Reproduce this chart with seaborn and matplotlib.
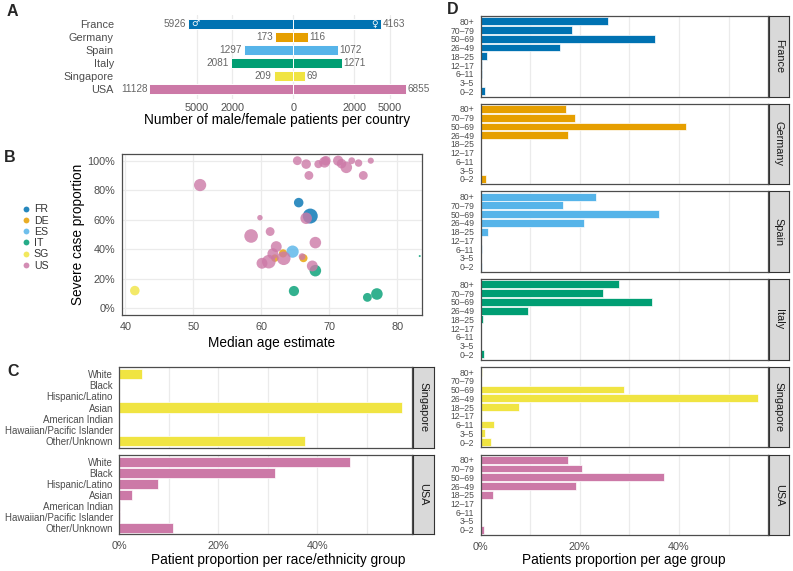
import numpy as np
import pandas as pd
import matplotlib
matplotlib.use("Agg")
import matplotlib.pyplot as plt
import seaborn as sns
from matplotlib.lines import Line2D

# ---------------- data ----------------
countries = ["France", "Germany", "Spain", "Italy", "Singapore", "USA"]
country_codes = ["FR", "DE", "ES", "IT", "SG", "US"]
country_colors = ["#0072B2", "#E69F00", "#56B4E9", "#009E73", "#F0E442", "#CC79A7"]

# Panel A
male_patients = [5926, 173, 1297, 2081, 209, 11128]
female_patients = [4163, 116, 1072, 1271, 69, 6855]
sex_ticks = [-5000, -2000, 0, 2000, 5000]
sex_tick_labels = ["5000", "2000", "0", "2000", "5000"]

# Panel B (one entry per study)
study_country = (["FR"] * 2 + ["DE"] * 3 + ["ES"] + ["IT"] * 5 + ["SG"] + ["US"] * 26)
study_median_age = [65.5, 67.2,
                    62.0, 63.2, 66.2,
                    64.6,
                    64.8, 67.95, 75.6, 77.0, 83.3,
                    41.4,
                    51.0, 65.3, 66.6, 67.0, 68.4, 69.3, 69.5, 71.3, 71.8, 72.5,
                    73.3, 74.3, 75.0, 76.1, 59.8, 61.3, 58.5, 62.2, 61.7, 61.1,
                    60.1, 63.3, 66.0, 67.95, 66.6, 67.5]
study_severe_prop = [0.716, 0.625,
                     0.34, 0.372, 0.34,
                     0.384,
                     0.117, 0.255, 0.074, 0.097, 0.354,
                     0.12,
                     0.835, 1.00, 0.977, 0.90, 0.977, 0.99, 1.00, 1.00, 0.98, 0.955,
                     1.00, 0.984, 0.90, 1.00, 0.614, 0.52, 0.49, 0.418, 0.37, 0.316,
                     0.305, 0.339, 0.35, 0.445, 0.61, 0.287]
study_size = [196, 484,
              121, 144, 144,
              324,
              225, 289, 169, 289, 9,
              196,
              324, 169, 196, 169, 144, 256, 196, 225, 196, 289,
              100, 121, 169, 81, 64, 169, 400, 256, 256, 400,
              256, 400, 100, 289, 289, 256]
age_ticks = [40, 50, 60, 70, 80]
severe_ticks = [0, 0.2, 0.4, 0.6, 0.8, 1.0]

# Panel C
race_groups = ["White", "Black", "Hispanic/Latino", "Asian", "American Indian",
               "Hawaiian/Pacific Islander", "Other/Unknown"]
race_singapore = [0.0465, 0.0, 0.0, 0.572, 0.0, 0.0, 0.376]
race_usa = [0.467, 0.315, 0.0775, 0.0256, 0.002, 0.001, 0.1085]

# Panel D
age_groups = ["80+", "70\u201379", "50\u201369", "26\u201349", "18\u201325",
              "12\u201317", "6\u201311", "3\u20135", "0\u20132"]
age_france = [0.257, 0.185, 0.351, 0.161, 0.013, 0.004, 0.003, 0.001, 0.010]
age_germany = [0.172, 0.191, 0.415, 0.177, 0.0, 0.0, 0.0, 0.0, 0.012]
age_spain = [0.232, 0.167, 0.359, 0.208, 0.016, 0.0, 0.003, 0.0, 0.003]
age_italy = [0.280, 0.247, 0.345, 0.095, 0.005, 0.002, 0.002, 0.0, 0.007]
age_singapore = [0.003, 0.0, 0.290, 0.560, 0.078, 0.003, 0.028, 0.010, 0.021]
age_usa = [0.177, 0.204, 0.370, 0.193, 0.026, 0.001, 0.001, 0.001, 0.007]
prop_ticks = [0, 0.2, 0.4]
prop_tick_labels = ["0%", "20%", "40%"]

# ---------------- style ----------------
sns.set_style("white")
plt.rcParams["font.family"] = ["Liberation Sans", "DejaVu Sans"]
TXT = "#4D4D4D"
GRID = "#EBEBEB"
BORDER = "#4D4D4D"

W, H = 793, 571
fig = plt.figure(figsize=(W / 100, H / 100), dpi=100)


def ax_px(x0, y0, x1, y1):
    return fig.add_axes([x0 / W, 1 - y1 / H, (x1 - x0) / W, (y1 - y0) / H])


def fig_text(x, y, s, **kw):
    fig.text(x / W, 1 - y / H, s, **kw)


def panel_border(ax):
    for s in ax.spines.values():
        s.set_visible(True)
        s.set_color(BORDER)
        s.set_linewidth(0.9)


# ---------------- Panel A ----------------
axA = ax_px(118, 15, 435, 99)
dfA = pd.DataFrame({"country": countries,
                    "male_neg": [-v for v in male_patients],
                    "female": female_patients})
sns.barplot(data=dfA, x="male_neg", y="country", hue="country", order=countries,
            hue_order=countries, palette=country_colors, saturation=1, width=0.82,
            edgecolor="white", linewidth=0.7, legend=False, orient="h", ax=axA)
sns.barplot(data=dfA, x="female", y="country", hue="country", order=countries,
            hue_order=countries, palette=country_colors, saturation=1, width=0.82,
            edgecolor="white", linewidth=0.7, legend=False, orient="h", ax=axA)
axA.set_xscale("function", functions=(lambda v: np.sign(v) * np.sqrt(np.abs(v)),
                                      lambda v: np.sign(v) * v ** 2))
k = 1.364
axA.set_xlim(-((293.3 - 118) / k) ** 2, ((435 - 293.3) / k) ** 2)
axA.set_ylim(5 + 10 / 13, -9 / 13)
axA.set_xticks(sex_ticks)
axA.set_xticklabels(sex_tick_labels)
axA.xaxis.set_minor_locator(matplotlib.ticker.NullLocator())
axA.grid(axis="x", color=GRID, lw=0.9)
axA.set_axisbelow(True)
for s in axA.spines.values():
    s.set_visible(False)
axA.tick_params(axis="both", length=0, labelsize=7.8, labelcolor=TXT)
axA.tick_params(axis="y", pad=3)
axA.tick_params(axis="x", pad=3)
axA.set_xlabel("")
axA.set_ylabel("")
for i in range(len(countries)):
    axA.annotate(str(male_patients[i]), (-male_patients[i], i), xytext=(-1.5, 0),
                 textcoords="offset points", ha="right", va="center",
                 fontsize=7.2, color="#666666", annotation_clip=False)
    axA.annotate(str(female_patients[i]), (female_patients[i], i), xytext=(1, 0),
                 textcoords="offset points", ha="left", va="center",
                 fontsize=7.2, color="#666666", annotation_clip=False)
axA.annotate("\u2642", (-male_patients[0], 0), xytext=(2.5, 0), textcoords="offset points",
             ha="left", va="center", fontsize=6.5, color="white",
             family=["DejaVu Sans"])
axA.annotate("\u2640", (female_patients[0], 0), xytext=(-2.5, 0), textcoords="offset points",
             ha="right", va="center", fontsize=6.5, color="white",
             family=["DejaVu Sans"])
fig_text(277, 120, "Number of male/female patients per country", ha="center",
         va="center", fontsize=9.8, color="black")
fig_text(7, 12, "A", fontsize=11.5, fontweight="bold", va="center", ha="left")

# ---------------- Panel B ----------------
axB = ax_px(122, 154, 422, 315)
dfB = pd.DataFrame({"code": study_country, "age": study_median_age,
                    "severe": study_severe_prop, "n": study_size})
smin, smax = min(study_size), max(study_size)
sns.scatterplot(data=dfB, x="age", y="severe", hue="code", hue_order=country_codes,
                palette=country_colors, size="n", sizes=(0.24 * smin, 0.24 * smax),
                size_norm=(smin, smax), alpha=0.8, edgecolor="none", linewidth=0,
                legend=False, ax=axB)
axB.set_xlim(40 - 3.3 / 6.8, 40 + (422 - 125.3) / 6.8)
axB.set_ylim(-(315 - 308.3) / 147.6, 1 + (160.7 - 154) / 147.6)
axB.set_xticks(age_ticks)
axB.set_yticks(severe_ticks)
axB.set_yticklabels([f"{int(round(v * 100))}%" for v in severe_ticks])
axB.grid(True, color=GRID, lw=0.9)
axB.set_axisbelow(True)
panel_border(axB)
axB.tick_params(axis="both", length=3, width=0.8, color="#333333", labelsize=7.8,
                labelcolor=TXT, pad=2)
axB.set_xlabel("Median age estimate", fontsize=9.8, color="black", labelpad=3)
axB.set_ylabel("Severe case proportion", fontsize=9.8, color="black", labelpad=2)
handles = [Line2D([0], [0], marker="o", linestyle="", markersize=4.2,
                  markerfacecolor=c, markeredgecolor="none", alpha=0.85)
           for c in country_colors]
fig.legend(handles, country_codes, loc="upper left",
           bbox_to_anchor=(16 / W, 1 - 199 / H), frameon=False, fontsize=7.6,
           handlelength=0.8, handletextpad=0.4, labelspacing=0.12, borderpad=0,
           labelcolor="#333333")
fig_text(4, 158, "B", fontsize=11.5, fontweight="bold", va="center", ha="left")


# ---------------- facet helpers ----------------
def facet_bars(ax, cats, vals, color, xmax, show_x, tick_fs):
    df = pd.DataFrame({"group": cats, "prop": vals})
    sns.barplot(data=df, x="prop", y="group", order=cats, orient="h", color=color,
                saturation=1, width=0.9, edgecolor="white", linewidth=0.5, ax=ax)
    ax.set_xlim(0, xmax)
    ax.set_ylim(len(cats) - 1 + 0.6, -0.6)
    ax.set_xticks(prop_ticks)
    ax.set_xticks([0.1, 0.3, 0.5], minor=True)
    ax.grid(axis="x", which="both", color=GRID, lw=0.9)
    ax.grid(axis="y", visible=False)
    ax.set_axisbelow(True)
    panel_border(ax)
    ax.tick_params(axis="y", length=3, width=0.8, color="#333333", labelsize=tick_fs,
                   labelcolor=TXT, pad=1.5)
    ax.tick_params(axis="x", which="minor", length=0)
    if show_x:
        ax.set_xticklabels(prop_tick_labels)
        ax.tick_params(axis="x", which="major", length=3, width=0.8, color="#333333",
                       labelsize=7.8, labelcolor=TXT, pad=2)
    else:
        ax.tick_params(axis="x", which="major", length=0, labelbottom=False)
    ax.set_xlabel("")
    ax.set_ylabel("")


def strip(x0, y0, x1, y1, label):
    sax = ax_px(x0, y0, x1, y1)
    sax.set_facecolor("#D9D9D9")
    sax.set_xticks([])
    sax.set_yticks([])
    for s in sax.spines.values():
        s.set_visible(True)
        s.set_color("#333333")
        s.set_linewidth(0.8)
    sax.text(0.5, 0.5, label, rotation=-90, ha="center", va="center", fontsize=7.8,
             color="#1A1A1A", transform=sax.transAxes)


# ---------------- Panel C ----------------
c_rows = [("Singapore", race_singapore, country_colors[4], 367.3, 447.7),
          ("USA", race_usa, country_colors[5], 455.0, 534.3)]
for j, (name, vals, col, y0, y1) in enumerate(c_rows):
    ax = ax_px(119.3, y0, 412.3, y1)
    facet_bars(ax, race_groups, vals, col, 0.592, j == len(c_rows) - 1, 7.0)
    strip(412.8, y0, 434, y1, name)
fig_text(278, 560, "Patient proportion per race/ethnicity group", ha="center",
         va="center", fontsize=9.8, color="black")
fig_text(7, 372, "C", fontsize=11.5, fontweight="bold", va="center", ha="left")

# ---------------- Panel D ----------------
d_vals = [age_france, age_germany, age_spain, age_italy, age_singapore, age_usa]
for j, name in enumerate(countries):
    y0 = 16 + j * 87.7
    y1 = y0 + 80.5
    ax = ax_px(480.5, y0, 768.2, y1)
    facet_bars(ax, age_groups, d_vals[j], country_colors[j], 0.58,
               j == len(countries) - 1, 6.2)
    strip(768.6, y0, 789.3, y1, name)
fig_text(624, 560, "Patients proportion per age group", ha="center", va="center",
         fontsize=9.8, color="black")
fig_text(447, 10, "D", fontsize=11.5, fontweight="bold", va="center", ha="left")

fig.savefig("out.png", dpi=100)
